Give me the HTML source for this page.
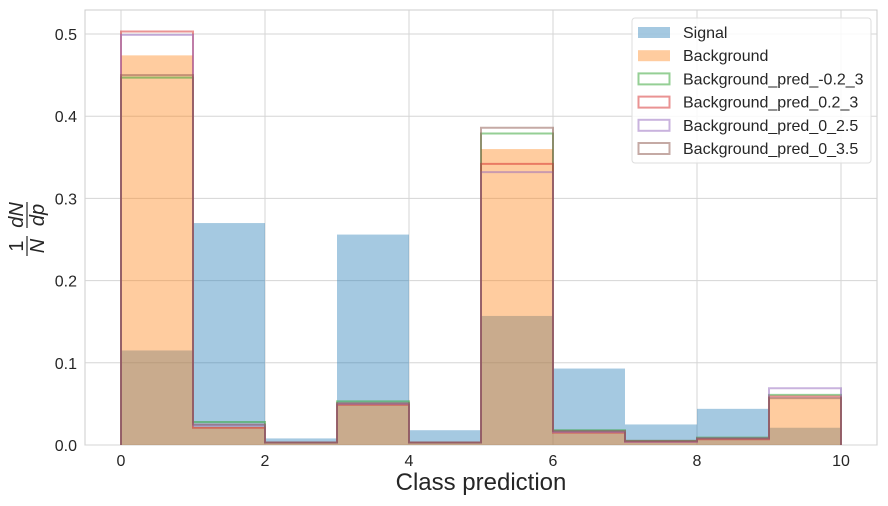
<!DOCTYPE html>
<html><head><meta charset="utf-8"><style>
body{margin:0;background:#fff;font-family:"Liberation Sans",sans-serif}
text{font-family:"Liberation Sans",sans-serif;fill:#262626}
</style></head><body>
<svg id="c" width="888" height="501" xmlns="http://www.w3.org/2000/svg">
<rect x="85" y="10" width="792" height="435" fill="#fff" stroke="#ccc"/>
<g id="grid"></g><g id="bars"></g><g id="steps"></g><g id="ticks"></g>
<text x="481" y="490" font-size="24" text-anchor="middle">Class prediction</text>
<g font-size="20" transform="translate(27,231) rotate(-90)">
<text x="-15" y="-4" text-anchor="middle">1</text>
<line x1="-25" y1="0" x2="-5" y2="0" stroke="#262626" stroke-width="1.2"/>
<text x="-15" y="17" text-anchor="middle" font-style="italic">N</text>
<text x="16" y="-4" text-anchor="middle" font-style="italic">dN</text>
<line x1="3" y1="0" x2="29" y2="0" stroke="#262626" stroke-width="1.2"/>
<text x="16" y="17" text-anchor="middle" font-style="italic">dp</text>
</g>
<g id="legend">
<rect x="632" y="18" width="239" height="145" rx="3" fill="#fff" fill-opacity="0.85" stroke="#ddd"/>
</g>
</svg>
<script>
const categories=[0,1,2,3,4,5,6,7,8,9];
const signal=[0.115,0.270,0.008,0.256,0.018,0.157,0.093,0.025,0.044,0.021];
const background=[0.474,0.022,0.003,0.050,0.004,0.360,0.016,0.005,0.008,0.057];
const predM02_3=[0.447,0.028,0.003,0.053,0.003,0.379,0.018,0.005,0.009,0.061];
const pred02_3=[0.503,0.021,0.003,0.049,0.003,0.342,0.015,0.004,0.007,0.059];
const pred0_25=[0.499,0.024,0.003,0.050,0.003,0.332,0.016,0.004,0.008,0.069];
const pred0_35=[0.450,0.025,0.003,0.051,0.003,0.386,0.017,0.005,0.008,0.057];
const xTicks=[0,2,4,6,8,10];
const yTicks=[0,0.1,0.2,0.3,0.4,0.5];
const NS="http://www.w3.org/2000/svg";
const X=v=>121+v*72, Y=v=>445-v*822;
function mk(tag,attrs,parent){const e=document.createElementNS(NS,tag);for(const k in attrs)e.setAttribute(k,attrs[k]);document.getElementById(parent).appendChild(e);return e;}
xTicks.forEach(t=>{
 let l=mk('line',{x1:X(t),x2:X(t),y1:10,y2:445,stroke:'#d5d5d5'},'grid');
 
 
 let tx=mk('text',{x:X(t),y:466,'font-size':16,'text-anchor':'middle'},'ticks');tx.textContent=t;
 
 
});
yTicks.forEach(t=>{
 let l=mk('line',{x1:85,x2:877,y1:Y(t),y2:Y(t),stroke:'#d5d5d5'},'grid');
 
 
 let tx=mk('text',{x:77,y:Y(t)+6,'font-size':16,'text-anchor':'end'},'ticks');tx.textContent=t.toFixed(1);
 
 
});
function bars(vals,col,name){vals.forEach((v,i)=>{
 let r=mk('rect',{x:X(categories[i]),y:Y(v),width:72,height:Y(0)-Y(v),fill:col,'fill-opacity':0.4},'bars');
 
 
});}
bars(signal,'#1f77b4','signal');
bars(background,'#ff7f0e','background');
function step(vals,col,name){
 let d='M'+X(0)+','+Y(0);
 vals.forEach((v,i)=>{d+=' L'+X(categories[i])+','+Y(v)+' L'+X(categories[i]+1)+','+Y(v);});
 d+=' L'+X(10)+','+Y(0);
 let p=mk('path',{d:d,fill:'none',stroke:col,'stroke-width':2,'stroke-opacity':0.5},'steps');
 
 
}
step(predM02_3,'#2ca02c','step-pred-m0.2-3');
step(pred02_3,'#d62728','step-pred-0.2-3');
step(pred0_25,'#9467bd','step-pred-0-2.5');
step(pred0_35,'#8c564b','step-pred-0-3.5');
const legNames=['Signal','Background','Background_pred_-0.2_3','Background_pred_0.2_3','Background_pred_0_2.5','Background_pred_0_3.5'];
const legCols=['#1f77b4','#ff7f0e','#2ca02c','#d62728','#9467bd','#8c564b'];
legNames.forEach((n,i)=>{
 const y=32+i*23.2;
 let r=i<2?mk('rect',{x:638,y:y-5,width:32,height:11,fill:legCols[i],'fill-opacity':0.4},'legend')
          :mk('rect',{x:638.5,y:y-5,width:31,height:11,fill:'none',stroke:legCols[i],'stroke-opacity':0.5,'stroke-width':2},'legend');
 
 
 let t=mk('text',{x:683,y:y+6,'font-size':16},'legend');t.textContent=n;
 
 
});
</script>
</body></html>
